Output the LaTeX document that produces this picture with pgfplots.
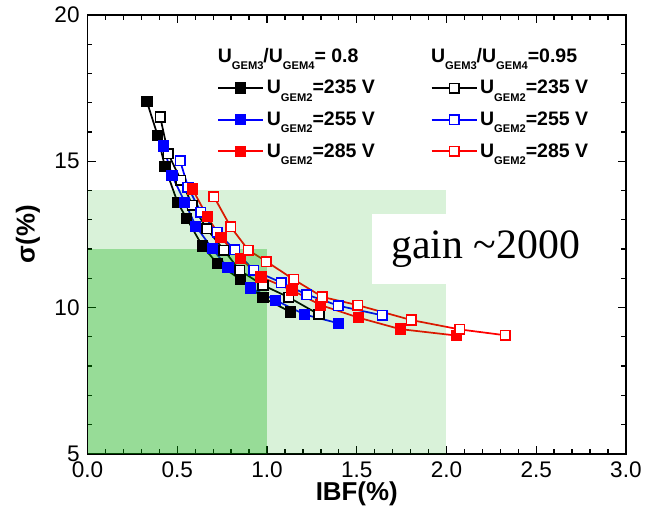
\documentclass[border=0pt]{standalone}
\usepackage{fontspec}
\setmainfont{Liberation Sans}
\newfontfamily\timesfont{Liberation Serif}
\usepackage{pgfplots}
\usepackage{pgfplotstable}
\pgfplotsset{compat=1.18}

\definecolor{shade}{RGB}{0,170,0}
\newcommand\sub[1]{\raisebox{-5.5pt}{\fontsize{8.4}{9}\selectfont\bfseries #1}}

% IBF(%)  sigma(%)
\pgfplotstableread{
x y
0.331 17.03
0.390 15.89
0.431 14.81
0.501 13.60
0.553 13.03
0.640 12.10
0.723 11.50
0.852 10.96
0.978 10.33
1.130 9.85
}\bkfill
\pgfplotstableread{
x y
0.405 16.51
0.449 15.26
0.520 14.35
0.584 13.50
0.664 12.69
0.760 11.96
0.847 11.27
0.978 10.76
1.120 10.35
1.290 9.76
}\bkopen
\pgfplotstableread{
x y
0.422 15.52
0.471 14.50
0.542 13.60
0.603 12.78
0.695 12.01
0.782 11.36
0.908 10.67
1.047 10.25
1.209 9.76
1.398 9.46
}\blfill
\pgfplotstableread{
x y
0.516 15.01
0.560 14.11
0.631 13.26
0.723 12.57
0.819 11.97
0.926 11.27
1.080 10.85
1.222 10.44
1.398 10.06
1.642 9.73
}\blopen
\pgfplotstableread{
x y
0.584 14.05
0.667 13.11
0.743 12.38
0.852 11.67
0.967 11.04
1.139 10.59
1.300 10.08
1.511 9.65
1.742 9.26
2.056 9.04
}\rdfill
\pgfplotstableread{
x y
0.704 13.79
0.797 12.76
0.896 11.96
0.997 11.57
1.148 10.96
1.309 10.36
1.505 10.08
1.804 9.57
2.074 9.25
2.328 9.05
}\rdopen

\begin{document}
\begin{tikzpicture}
\begin{axis}[
    name=ax,
    scale only axis, width=405.75pt, height=330.75pt,
    xmin=0, xmax=3, ymin=5, ymax=20,
    xtick={0,0.5,...,3}, ytick={5,10,15,20},
    minor x tick num=4, minor y tick num=4,
    tick align=inside,
    major tick length=6pt, minor tick length=3.5pt,
    every tick/.style={black, line width=1pt},
    axis line style={line width=1.3pt},
    /pgf/number format/assume math mode=true,
    tick label style={font=\fontsize{17}{20}\selectfont},
    yticklabel style={xshift=-2.5pt},
    xticklabel style={yshift=-2.5pt, /pgf/number format/.cd, fixed, fixed zerofill, precision=1},
    xlabel={IBF(\%)}, ylabel={σ(\%)},
    label style={font=\fontsize{19.5}{22}\selectfont\bfseries},
    xlabel style={at={(axis description cs:0.5,-0.092)}, anchor=center},
    ylabel style={at={(axis description cs:-0.111,0.5)}, anchor=center},
    legend columns=2,
    legend cell align=left,
    legend image code/.code={\draw[mark repeat=2, mark phase=2, #1]
        plot coordinates {(0pt,0pt) (17pt,0pt) (34pt,0pt)};},
    legend style={at={(axis cs:0.70,19.05)}, anchor=north west, draw=none, fill=none,
        font=\fontsize{14.7}{17}\selectfont\bfseries, row sep=8pt,
        /tikz/every even column/.append style={column sep=40pt}},
    sF/.style={line width=1.3pt, mark=square*, mark size=3.6pt, mark options={solid}},
    sO/.style={line width=1.3pt, mark=square*, mark size=3.6pt, mark options={solid, fill=white, line width=1.2pt}},
]
\addlegendimage{empty legend}
\addlegendentry{\hspace*{-37pt}U\sub{GEM3}/U\sub{GEM4}= 0.8}
\addlegendimage{empty legend}
\addlegendentry{\hspace*{-37pt}U\sub{GEM3}/U\sub{GEM4}=0.95}

\addplot[sF, black] table {\bkfill};
\addlegendentry{U\sub{GEM2}=235 V}
\addplot[sO, black] table {\bkopen};
\addlegendentry{U\sub{GEM2}=235 V}
\addplot[sF, blue] table {\blfill};
\addlegendentry{U\sub{GEM2}=255 V}
\addplot[sO, blue] table {\blopen};
\addlegendentry{U\sub{GEM2}=255 V}
\addplot[sF, red] table {\rdfill};
\addlegendentry{U\sub{GEM2}=285 V}
\addplot[sO, red] table {\rdopen};
\addlegendentry{U\sub{GEM2}=285 V}

% shaded regions drawn over the data
\addplot[forget plot, draw=none, fill=shade, fill opacity=0.15]
    coordinates {(0,5) (2,5) (2,14) (0,14)};
\addplot[forget plot, draw=none, fill=shade, fill opacity=0.3]
    coordinates {(0,5) (1,5) (1,12) (0,12)};

\node[fill=white, inner sep=0pt, minimum width=171pt, minimum height=53pt,
      font=\timesfont\fontsize{31.5}{34}\selectfont] at (axis cs:2.219,11.99) {gain \textasciitilde2000};
\end{axis}
% page margins as in the reference
\path (ax.south west) ++(-66pt,-53.25pt);
\path (ax.north east) ++(12.75pt,11.25pt);
\end{tikzpicture}
\end{document}
